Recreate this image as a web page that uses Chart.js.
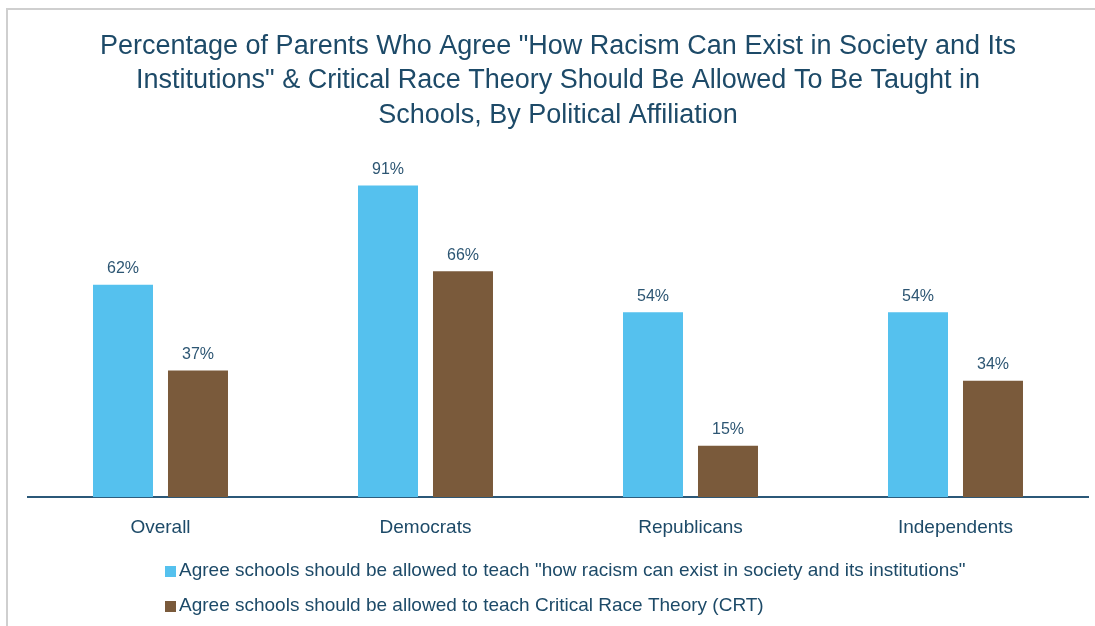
<!DOCTYPE html>
<html>
<head>
<meta charset="utf-8">
<script src="https://cdn.jsdelivr.net/npm/chart.js@4.4.1/dist/chart.umd.min.js"></script>
<style>
  html, body { margin: 0; padding: 0; background: #fff; }
  #wrap { position: relative; width: 1095px; height: 626px; overflow: hidden; }
  #frame { position: absolute; left: 6px; top: 8px; right: -4px; bottom: -4px;
           border-left: 2px solid #cfcfcf; border-top: 2px solid #cfcfcf; }
  canvas { position: absolute; left: 0; top: 0; }
</style>
</head>
<body>
<div id="wrap">
  <div id="frame"></div>
  <canvas id="chart" width="1095" height="626"></canvas>
</div>
<script>
'use strict';

const categories = ['Overall', 'Democrats', 'Republicans', 'Independents'];
const racismValues = [62, 91, 54, 54];
const crtValues = [37, 66, 15, 34];
const seriesNames = [
  'Agree schools should be allowed to teach "how racism can exist in society and its institutions"',
  'Agree schools should be allowed to teach Critical Race Theory (CRT)'
];
const titleLines = [
  'Percentage of Parents Who Agree "How Racism Can Exist in Society and Its',
  'Institutions" & Critical Race Theory Should Be Allowed To Be Taught in',
  'Schools, By Political Affiliation'
];

const FONT = "'Liberation Sans Narrow', 'Liberation Sans', sans-serif";
const TEXT = '#1d4a68';
const BLUE = '#55c1ee';
const BROWN = '#7a5a3b';

let canvasElem = document.getElementById('chart');

// percent labels sitting on top of each bar
const valueLabels = {
  id: 'valueLabels',
  afterDatasetsDraw(chart) {
    let ctx = chart.ctx;
    ctx.save();
    ctx.font = '16px ' + FONT;
    ctx.fillStyle = '#2d5673';
    ctx.textAlign = 'center';
    ctx.textBaseline = 'bottom';
    chart.data.datasets.forEach((ds, i) => {
      chart.getDatasetMeta(i).data.forEach((bar, j) => {
        ctx.fillText(ds.data[j] + '%', bar.x, bar.y - 8);
      });
    });
    ctx.restore();
  }
};

// two-row legend, left aligned under the axis
const stackedLegend = {
  id: 'stackedLegend',
  afterDraw(chart) {
    let ctx = chart.ctx;
    ctx.save();
    ctx.font = '19px ' + FONT;
    ctx.textBaseline = 'middle';
    ctx.textAlign = 'left';
    chart.data.datasets.forEach((ds, i) => {
      let y = 571 + i * 35;
      ctx.fillStyle = ds.backgroundColor;
      ctx.fillRect(165, y - 5, 11, 11);
      ctx.fillStyle = TEXT;
      ctx.fillText(ds.label, 179, y);
    });
    ctx.restore();
  }
};

new Chart(canvasElem, {
  type: 'bar',
  data: {
    labels: categories,
    datasets: [
      { label: seriesNames[0], data: racismValues, backgroundColor: BLUE },
      { label: seriesNames[1], data: crtValues, backgroundColor: BROWN }
    ]
  },
  options: {
    responsive: false,
    animation: false,
    devicePixelRatio: 1,
    layout: { padding: { left: 28, right: 7, top: 0, bottom: 76 } },
    datasets: {
      bar: { categoryPercentage: 0.566, barPercentage: 0.8 }
    },
    plugins: {
      legend: { display: false },
      tooltip: { enabled: false },
      title: {
        display: true,
        text: titleLines,
        color: TEXT,
        font: { family: FONT, size: 27, weight: 'normal', lineHeight: 1.28 },
        padding: { top: 29, bottom: 22 }
      }
    },
    scales: {
      x: {
        grid: { display: false },
        border: { display: true, color: '#2b5878', width: 2 },
        ticks: { color: TEXT, font: { family: FONT, size: 19 }, padding: 11 }
      },
      y: {
        display: false,
        min: 0,
        max: 100
      }
    }
  },
  plugins: [valueLabels, stackedLegend]
});
</script>
</body>
</html>
